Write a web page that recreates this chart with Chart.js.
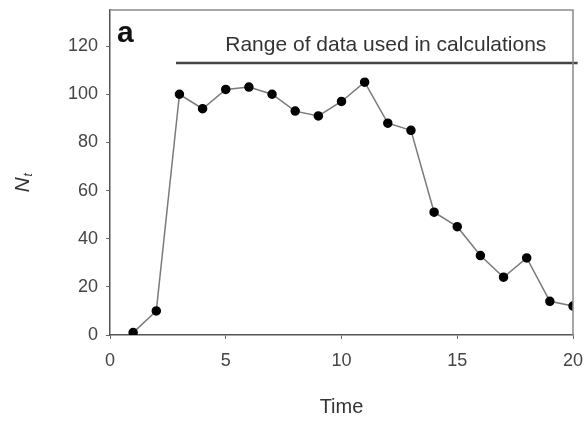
<!DOCTYPE html>
<html>
<head>
<meta charset="utf-8">
<script src="https://cdn.jsdelivr.net/npm/chart.js@4.4.1/dist/chart.umd.min.js"></script>
<style>
  html, body { margin: 0; padding: 0; background: #fff; }
  #wrap { width: 587px; height: 426px; }
</style>
</head>
<body>
<div id="wrap"><canvas id="chart" width="587" height="426"></canvas></div>
<script>
// values
const times = [1, 2, 3, 4, 5, 6, 7, 8, 9, 10, 11, 12, 13, 14, 15, 16, 17, 18, 19, 20];
const counts = [1, 10, 100, 94, 102, 103, 100, 93, 91, 97, 105, 88, 85, 51, 45, 33, 24, 32, 14, 12];
const rangeX = [2.85, 20.2];
const rangeLevel = 113;
const rangeLabel = 'Range of data used in calculations';
const panelLabel = 'a';
const xTitle = 'Time';

const FONT = '"Liberation Sans", Arial, sans-serif';

const decor = {
  id: 'decor',
  afterDraw(chart) {
    const { ctx, chartArea: a, scales } = chart;
    ctx.save();
    // top + right frame
    ctx.strokeStyle = '#8a8a8a';
    ctx.lineWidth = 1.5;
    ctx.beginPath();
    ctx.moveTo(a.left, a.top);
    ctx.lineTo(a.right, a.top);
    ctx.lineTo(a.right, a.bottom);
    ctx.stroke();

    // panel letter
    ctx.fillStyle = '#111';
    ctx.font = 'bold 30px ' + FONT;
    ctx.textBaseline = 'alphabetic';
    ctx.textAlign = 'left';
    ctx.fillText(panelLabel, a.left + 7, a.top + 32);

    // range caption
    const cx = (scales.x.getPixelForValue(rangeX[0]) + scales.x.getPixelForValue(rangeX[1])) / 2;
    ctx.fillStyle = '#333';
    ctx.font = '21px ' + FONT;
    ctx.textAlign = 'center';
    ctx.textBaseline = 'middle';
    ctx.fillText(rangeLabel, cx + 9, scales.y.getPixelForValue(rangeLevel) - 18);

    // x title
    ctx.font = '20px ' + FONT;
    ctx.fillText(xTitle, (a.left + a.right) / 2, a.bottom + 72);

    // y title N_t
    ctx.translate(23, (a.top + a.bottom) / 2 + 10);
    ctx.rotate(-Math.PI / 2);
    ctx.textAlign = 'left';
    ctx.textBaseline = 'middle';
    ctx.font = 'italic 21px ' + FONT;
    const w = ctx.measureText('N').width;
    ctx.fillText('N', -(w + 5) / 2, 0);
    ctx.font = 'italic 12px ' + FONT;
    ctx.fillText('t', -(w + 5) / 2 + w + 1, 6);
    ctx.restore();
  }
};

new Chart(document.getElementById('chart'), {
  type: 'line',
  data: {
    datasets: [
      {
        data: times.map((t, i) => ({ x: t, y: counts[i] })),
        borderColor: '#7a7a7a',
        borderWidth: 1.5,
        pointBackgroundColor: '#000',
        pointBorderColor: '#000',
        pointRadius: 4,
        tension: 0
      },
      {
        data: rangeX.map(x => ({ x: x, y: rangeLevel })),
        borderColor: '#444',
        borderWidth: 2.5,
        pointRadius: 0,
        clip: false
      }
    ]
  },
  plugins: [decor],
  options: {
    responsive: false,
    animation: false,
    layout: { padding: { top: 10, right: 14, left: 0, bottom: 0 } },
    plugins: { legend: { display: false }, tooltip: { enabled: false } },
    scales: {
      x: {
        type: 'linear',
        min: 0, max: 20,
        grid: { display: true, drawOnChartArea: false, drawTicks: true, tickLength: 4, color: '#666' },
        border: { display: true, color: '#555', width: 1.5 },
        ticks: { stepSize: 5, color: '#444', padding: 11, font: { family: FONT, size: 18 } },
        afterFit(s) { s.height = 91; s.paddingLeft = 0; s.paddingRight = 0; }
      },
      y: {
        min: 0, max: 135,
        grid: { display: true, drawOnChartArea: false, drawTicks: true, tickLength: 4, color: '#666' },
        border: { display: true, color: '#555', width: 1.5 },
        ticks: { stepSize: 20, includeBounds: false, color: '#444', padding: 8, font: { family: FONT, size: 18 } },
        afterFit(s) { s.width = 110; s.paddingTop = 0; s.paddingBottom = 0; }
      }
    }
  }
});
</script>
</body>
</html>
